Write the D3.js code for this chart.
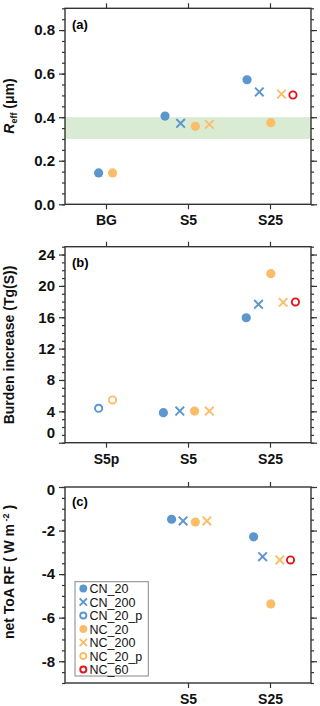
<!DOCTYPE html>
<html>
<head>
<meta charset="utf-8">
<script src="https://cdn.jsdelivr.net/npm/d3@7"></script>
<style>
  body { margin: 0; background: #fff; }
  svg { display: block; font-family: "Liberation Sans", Arial, sans-serif; }
</style>
</head>
<body>
<svg id="chart" width="320" height="706"></svg>
<script>

// categories for each panel
const catsA = ["BG", "S5", "S25"];
const catsB = ["S5p", "S5", "S25"];
const catsC = ["S5p", "S5", "S25"];
const shownC = [1, 2]; // (c) has no S5p run

const seriesKeys = ["CN_20", "CN_200", "CN_20_p", "NC_20", "NC_200", "NC_20_p", "NC_60"];

// (a) effective radius (um), columns BG, S5, S25 -- null = not run
const reffCN20  = [0.144, 0.405, 0.572];
const reffCN200 = [null, 0.372, 0.516];
const reffNC20  = [0.144, 0.358, 0.375];
const reffNC200 = [null, 0.367, 0.506];
const reffNC60  = [null, null, 0.502];
const reffBand  = [0.3, 0.4]; // observed range (green band)

// (b) burden increase Tg(S), columns S5p, S5, S25
const burdCN20  = [null, 3.83, 15.94];
const burdCN200 = [null, 4.04, 17.65];
const burdCN20p = [4.39, null, null];
const burdNC20  = [null, 4.04, 21.56];
const burdNC200 = [null, 4.04, 17.9];
const burdNC20p = [5.45, null, null];
const burdNC60  = [null, null, 17.95];

// (c) net ToA RF (W m-2), columns S5p, S5, S25
const rfCN20  = [null, -1.48, -2.29];
const rfCN200 = [null, -1.56, -3.2];
const rfNC20  = [null, -1.61, -5.37];
const rfNC200 = [null, -1.56, -3.35];
const rfNC60  = [null, null, -3.35];

// y tick labels
const ticksA = [0, 0.2, 0.4, 0.6, 0.8];
const ticksB = [0, 4, 8, 12, 16, 20, 24];
const ticksC = [0, -2, -4, -6, -8];

// horizontal spread of markers round each category (category units)
const dxA = {CN_20: [-0.09, -0.28, -0.28], CN_200: [0, -0.09, -0.13], NC_20: [0.08, 0.09, 0.01],
             NC_200: [0, 0.26, 0.14], NC_60: [0, 0, 0.28]};
const dxB = {CN_20: [0, -0.30, -0.29], CN_200: [0, -0.10, -0.14], CN_20_p: [-0.09, 0, 0],
             NC_20: [0, 0.08, 0.01], NC_200: [0, 0.26, 0.16], NC_20_p: [0.08, 0, 0], NC_60: [0, 0, 0.31]};
const dxC = {CN_20: [0, -0.20, -0.20], CN_200: [0, -0.06, -0.09], NC_20: [0, 0.09, 0.01],
             NC_200: [0, 0.23, 0.12], NC_60: [0, 0, 0.25]};

const blue = "#5b96cc", orange = "#fbbd68", red = "#e3131b";
const style = {
  CN_20:   {shape: "dot",   color: blue},
  CN_200:  {shape: "cross", color: blue},
  CN_20_p: {shape: "ring",  color: blue},
  NC_20:   {shape: "dot",   color: orange},
  NC_200:  {shape: "cross", color: orange},
  NC_20_p: {shape: "ring",  color: orange},
  NC_60:   {shape: "ring",  color: red}
};

let svg = d3.select("#chart");
let left = 65, right = 311;

let x = d3.scaleLinear().domain([-0.5, 2.5]).range([left, right]);

function drawMarker(g, key, cx, cy, s) {
  let st = style[key];
  if (st.shape == "dot") {
    g.append("circle").attr("cx", cx).attr("cy", cy).attr("r", 4.6 * s).attr("fill", st.color);
  } else if (st.shape == "ring") {
    g.append("circle").attr("cx", cx).attr("cy", cy).attr("r", 3.6 * s)
      .attr("fill", "none").attr("stroke", st.color).attr("stroke-width", 1.9);
  } else {
    let h = 4.3 * s;
    g.append("path")
      .attr("d", `M${cx - h},${cy - h}L${cx + h},${cy + h}M${cx - h},${cy + h}L${cx + h},${cy - h}`)
      .attr("stroke", st.color).attr("stroke-width", 1.9).attr("fill", "none");
  }
}

function minorTicks(domain, step) {
  let n = Math.round((domain[1] - domain[0]) / step);
  return d3.range(n + 1).map(i => +(domain[0] + i * step).toFixed(4));
}

function panel(opt) {
  let y = d3.scaleLinear().domain(opt.domain).range([opt.bottom, opt.top]);
  let g = svg.append("g");

  if (opt.band) {
    g.append("rect")
      .attr("x", left).attr("width", right - left)
      .attr("y", y(opt.band[1])).attr("height", y(opt.band[0]) - y(opt.band[1]))
      .attr("fill", "#d9ecd3");
  }

  // left axis, labelled majors + minor ticks
  let la = g.append("g").attr("transform", `translate(${left},0)`)
    .call(d3.axisLeft(y).tickValues(opt.ticks).tickSize(6).tickPadding(4).tickFormat(opt.fmt));
  g.append("g").attr("transform", `translate(${left},0)`)
    .call(d3.axisLeft(y).tickValues(minorTicks(opt.domain, opt.minor)).tickSize(3).tickFormat(""));
  // right axis, no labels
  g.append("g").attr("transform", `translate(${right},0)`)
    .call(d3.axisRight(y).tickValues(opt.ticks).tickSize(6).tickFormat(""));
  g.append("g").attr("transform", `translate(${right},0)`)
    .call(d3.axisRight(y).tickValues(minorTicks(opt.domain, opt.minor)).tickSize(3).tickFormat(""));

  // category axes
  let ba = g.append("g").attr("transform", `translate(0,${opt.bottom})`)
    .call(d3.axisBottom(x).tickValues(opt.catIdx).tickSize(5).tickPadding(6).tickFormat(i => opt.cats[i]));
  g.append("g").attr("transform", `translate(0,${opt.top})`)
    .call(d3.axisTop(x).tickValues(opt.catIdx).tickSize(5).tickFormat(""));

  g.selectAll(".domain").remove();
  g.selectAll(".tick line").attr("stroke", "#333").attr("stroke-width", 1.2);
  g.selectAll(".tick text").attr("font-weight", "bold").attr("fill", "#111");
  la.selectAll(".tick text").attr("font-size", 15);
  ba.selectAll(".tick text").attr("font-size", 14);

  if (opt.zeroShift) {
    la.selectAll(".tick text").filter(d => d == 0).attr("dy", opt.zeroShift);
  }

  g.append("rect")
    .attr("x", left).attr("y", opt.top)
    .attr("width", right - left).attr("height", opt.bottom - opt.top)
    .attr("fill", "none").attr("stroke", "#333").attr("stroke-width", 1.4);

  g.append("text").attr("x", 72).attr("y", opt.top + opt.labelDy)
    .attr("font-size", 13).attr("font-weight", "bold").text(opt.label);

  // points
  let pts = g.append("g");
  opt.series.forEach(s => {
    s.values.forEach((v, i) => {
      if (v === null) return;
      drawMarker(pts, s.key, x(i + opt.dx[s.key][i]), y(v), 1);
    });
  });

  // y title
  let t = g.append("text")
    .attr("transform", `translate(14,${opt.titleY}) rotate(-90)`)
    .attr("text-anchor", "middle").attr("font-size", 14).attr("font-weight", "bold").attr("fill", "#111");
  opt.title(t);
  return y;
}

panel({
  top: 8.3, bottom: 204.3, domain: [0, 0.9], ticks: ticksA, minor: 0.05,
  fmt: d3.format(".1f"), cats: catsA, catIdx: [0, 1, 2], label: "(a)", labelDy: 20.5,
  band: reffBand, dx: dxA, titleY: 106,
  series: [
    {key: "CN_20", values: reffCN20}, {key: "CN_200", values: reffCN200},
    {key: "NC_20", values: reffNC20}, {key: "NC_200", values: reffNC200},
    {key: "NC_60", values: reffNC60}
  ],
  title: t => {
    t.append("tspan").attr("font-style", "italic").text("R");
    t.append("tspan").attr("font-size", 9).attr("dy", 3).text("eff");
    t.append("tspan").attr("dy", -3).text(" (μm)");
  }
});

panel({
  top: 246.7, bottom: 442.7, domain: [0, 25], ticks: ticksB, minor: 1,
  fmt: d => String(d), cats: catsB, catIdx: [0, 1, 2], label: "(b)", labelDy: 20.5,
  dx: dxB, titleY: 345, zeroShift: "-0.35em",
  series: [
    {key: "CN_20", values: burdCN20}, {key: "CN_200", values: burdCN200},
    {key: "CN_20_p", values: burdCN20p}, {key: "NC_20", values: burdNC20},
    {key: "NC_200", values: burdNC200}, {key: "NC_20_p", values: burdNC20p},
    {key: "NC_60", values: burdNC60}
  ],
  title: t => t.text("Burden increase (Tg(S))")
});

panel({
  top: 487, bottom: 683, domain: [-9, 0], ticks: ticksC, minor: 0.5,
  fmt: d => String(d), cats: catsC, catIdx: shownC, label: "(c)", labelDy: 18.5,
  dx: dxC, titleY: 572, zeroShift: "0.5em",
  series: [
    {key: "CN_20", values: rfCN20}, {key: "CN_200", values: rfCN200},
    {key: "NC_20", values: rfNC20}, {key: "NC_200", values: rfNC200},
    {key: "NC_60", values: rfNC60}
  ],
  title: t => {
    t.text("net ToA RF ( W m");
    t.append("tspan").attr("font-size", 9).attr("dy", -5).text(" -2");
    t.append("tspan").attr("dy", 5).text(" )");
  }
});

// legend in panel (c)
let lg = svg.append("g");
lg.append("rect").attr("x", 75).attr("y", 581.7).attr("width", 73.3).attr("height", 94.3)
  .attr("fill", "#fff").attr("stroke", "#888").attr("stroke-width", 1);
seriesKeys.forEach((k, i) => {
  let cy = 588.5 + i * 13.5;
  drawMarker(lg, k, 83.3, cy, 0.85);
  lg.append("text").attr("x", 89.5).attr("y", cy).attr("dy", "0.36em")
    .attr("font-size", 12.5).attr("fill", "#111").text(k);
});

</script>
</body>
</html>
